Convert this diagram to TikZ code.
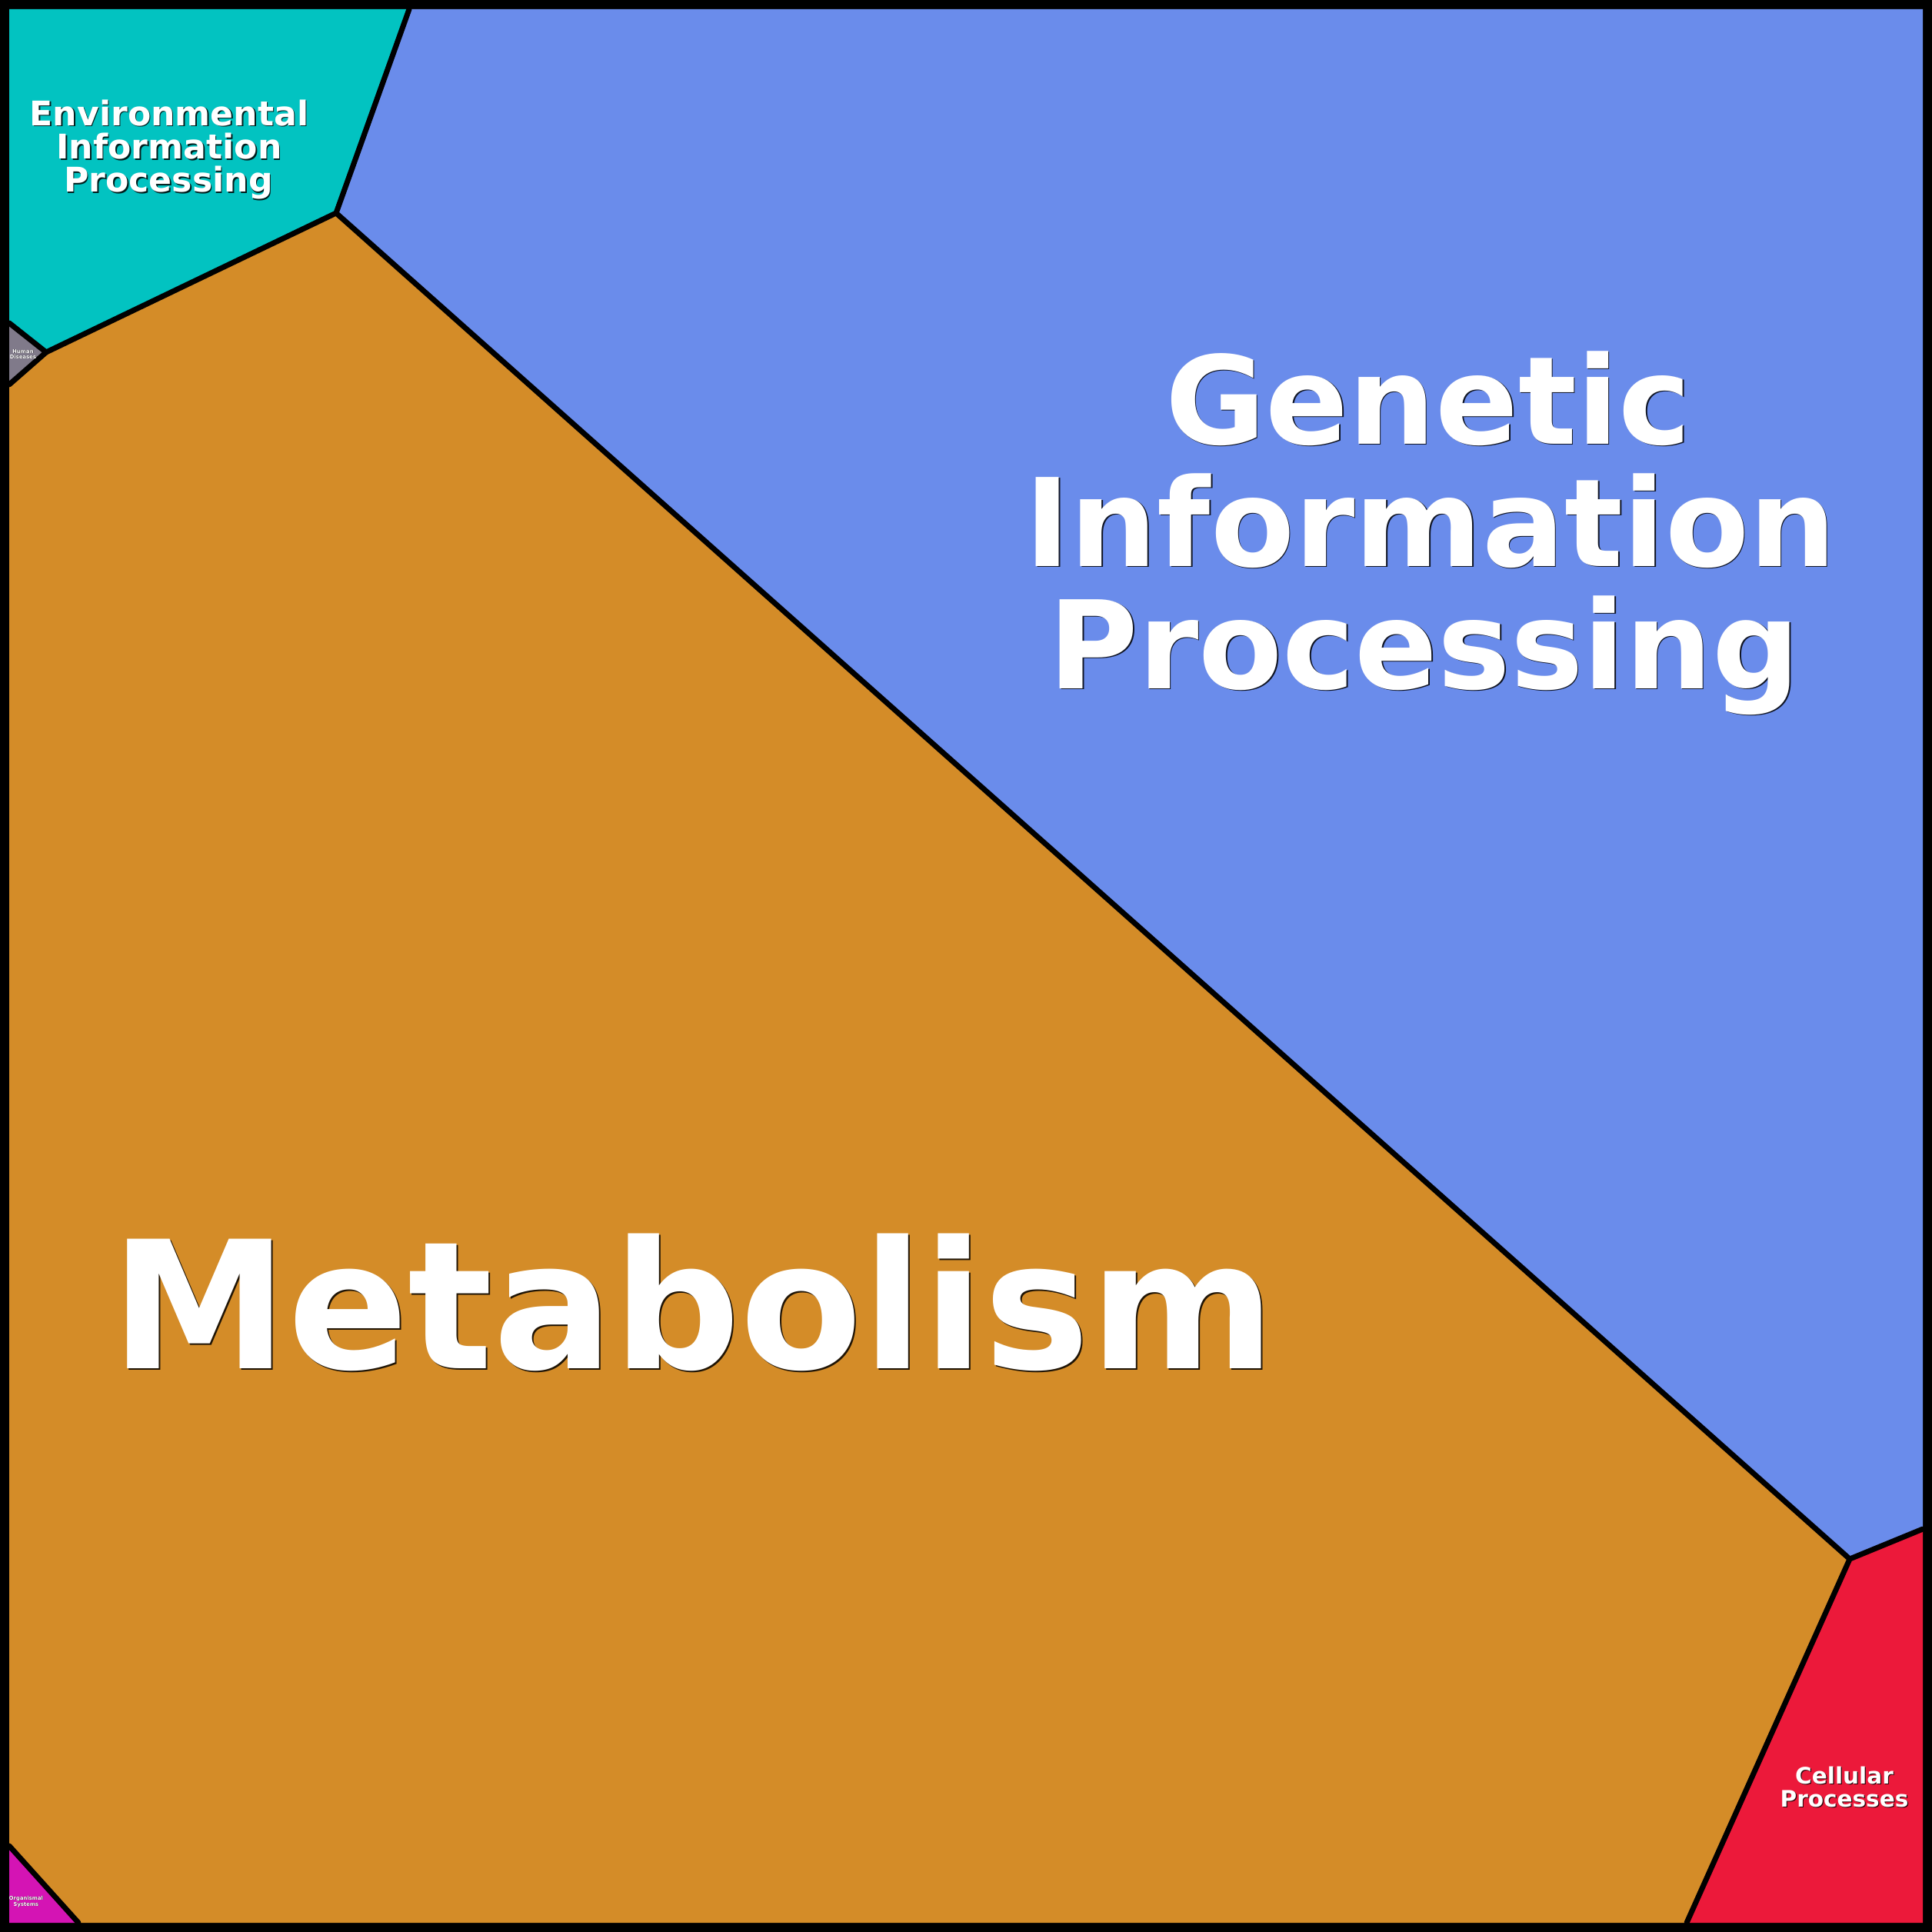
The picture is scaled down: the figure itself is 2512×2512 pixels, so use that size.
\documentclass[tikz,border=0pt]{standalone}
\usepackage{fontspec}
\setmainfont{DejaVu Sans}
\definecolor{envc}{RGB}{2,195,193}
\definecolor{genc}{RGB}{106,140,235}
\definecolor{metc}{RGB}{212,140,40}
\definecolor{celc}{RGB}{236,25,58}
\definecolor{humc}{RGB}{128,122,138}
\definecolor{orgc}{RGB}{212,20,180}
\tikzset{
  lbl/.style={anchor=base, inner sep=0pt, outer sep=0pt, text=white},
  shd/.style={lbl, text=black, text opacity=0.85},
  border/.style={line width=0.07cm, line cap=round, line join=round, black}
}
\newcommand\ltext[6]{%
  \node[shd,font=\bfseries\fontsize{#3}{#3}\selectfont,xshift=#4,yshift=-#4] at (#1,#2) {#6};
  \node[lbl,font=\bfseries\fontsize{#3}{#3}\selectfont] (#5) at (#1,#2) {#6};}
\begin{document}
\begin{tikzpicture}[x=0.01cm,y=-0.01cm]
\useasboundingbox (0,0) rectangle (2512,2512);
\fill[black] (0,0) rectangle (2512,2512);
% vertices
\coordinate (tl) at (12,12);
\coordinate (tr) at (2500,12);
\coordinate (br) at (2500,2500);
\coordinate (bl) at (12,2500);
\coordinate (eg) at (532,12);
\coordinate (A) at (437,277);
\coordinate (H) at (60,458);
\coordinate (h1) at (12,420);
\coordinate (h2) at (12,500);
\coordinate (B) at (2405,2027);
\coordinate (gr) at (2500,1988);
\coordinate (cb) at (2193,2500);
\coordinate (o1) at (12,2400);
\coordinate (o2) at (102,2500);
% regions
\fill[envc] (tl) -- (eg) -- (A) -- (H) -- (h1) -- cycle;
\fill[humc] (h1) -- (H) -- (h2) -- cycle;
\fill[genc] (eg) -- (tr) -- (gr) -- (B) -- (A) -- cycle;
\fill[metc] (A) -- (B) -- (cb) -- (o2) -- (o1) -- (h2) -- (H) -- cycle;
\fill[celc] (B) -- (gr) -- (br) -- (cb) -- cycle;
\fill[orgc] (o1) -- (o2) -- (bl) -- cycle;
% borders
\draw[border] (eg) -- (A) -- (H);
\draw[border] (h1) -- (H) -- (h2);
\draw[border] (A) -- (B) -- (gr);
\draw[border] (B) -- (cb);
\draw[border] (o1) -- (o2);
% labels
\ltext{901}{1779}{65.7pt}{0.02cm}{met}{Metabolism}
\ltext{1857}{577}{45.2pt}{0.015cm}{gen1}{Genetic}
\ltext{1860}{736}{45.2pt}{0.015cm}{gen2}{Information}
\ltext{1852}{895}{45.2pt}{0.015cm}{gen3}{Processing}
\ltext{220}{163}{12.55pt}{0.015cm}{env1}{Environmental}
\ltext{220}{207}{12.55pt}{0.015cm}{env2}{Information}
\ltext{219}{250}{12.55pt}{0.015cm}{env3}{Processing}
\ltext{2398}{2319}{8.4pt}{0.012cm}{cel1}{Cellular}
\ltext{2398}{2349}{8.4pt}{0.012cm}{cel2}{Processes}
\ltext{30}{459}{1.95pt}{0.005cm}{hum1}{Human}
\ltext{30}{466}{1.95pt}{0.005cm}{hum2}{Diseases}
\ltext{34}{2470}{1.95pt}{0.005cm}{org1}{Organismal}
\ltext{34}{2478}{1.95pt}{0.005cm}{org2}{Systems}
\end{tikzpicture}
\end{document}
